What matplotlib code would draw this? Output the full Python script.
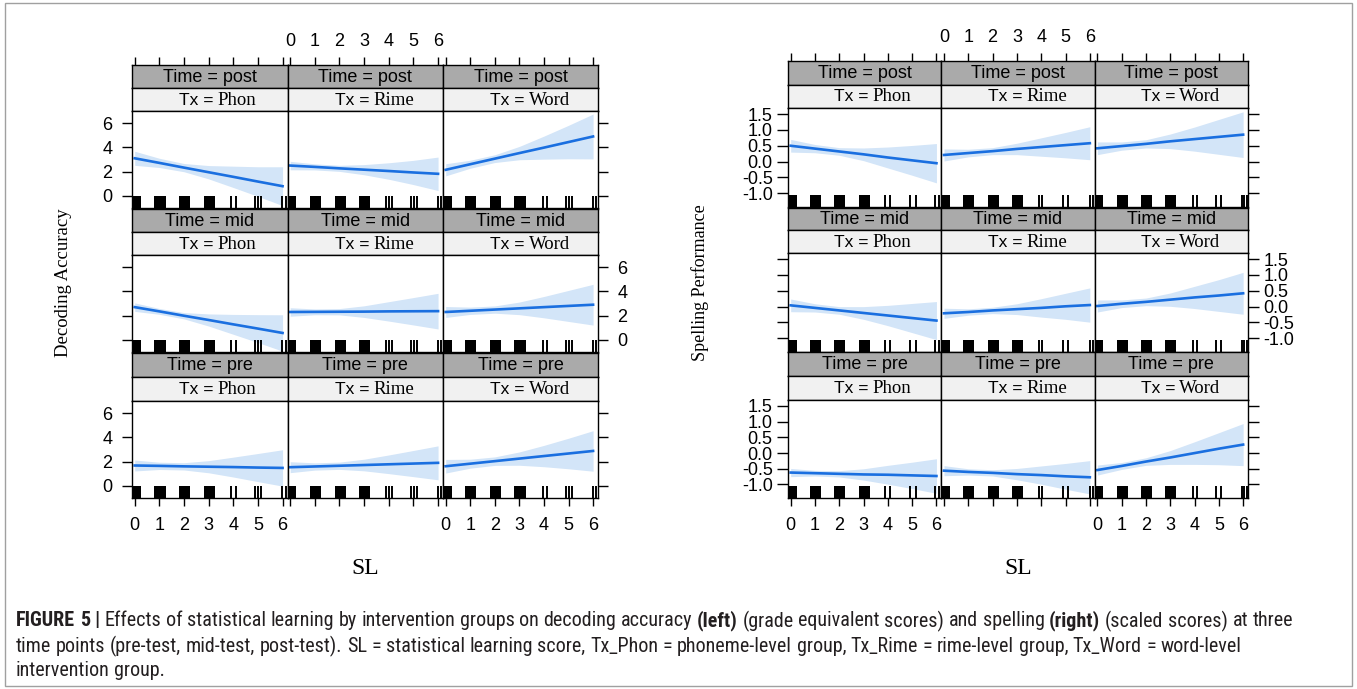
import matplotlib
matplotlib.use('Agg')
import matplotlib.pyplot as plt
import matplotlib.transforms as mtrans
from matplotlib.patches import Rectangle
from matplotlib import font_manager as fm

W, H = 1357, 689
SANS = 'Liberation Sans'
SERIF = 'Liberation Serif'
plt.rcParams['font.family'] = [SANS, 'DejaVu Sans']
plt.rcParams['axes.linewidth'] = 1.0
plt.rcParams['axes.unicode_minus'] = False

# ---------------- data ----------------
SL = [0, 1, 2, 3, 4, 5, 6]
TIMES = ['post', 'mid', 'pre']
GROUPS = ['Phon', 'Rime', 'Word']

# Decoding accuracy (left chart): fit / lower / upper, per group (Phon, Rime, Word)
dec_fit_post = [[3.10, 2.72, 2.33, 1.95, 1.57, 1.18, 0.80],
                [2.50, 2.39, 2.27, 2.16, 2.05, 1.93, 1.82],
                [2.15, 2.61, 3.07, 3.53, 3.98, 4.44, 4.90]]
dec_lo_post = [[2.52, 2.34, 1.99, 1.40, 0.69, -0.04, -0.80],
               [2.15, 2.14, 2.02, 1.74, 1.37, 0.93, 0.44],
               [1.65, 2.28, 2.75, 2.98, 3.03, 3.06, 3.05]]
dec_hi_post = [[3.68, 3.10, 2.67, 2.50, 2.45, 2.40, 2.40],
               [2.85, 2.64, 2.52, 2.58, 2.73, 2.93, 3.20],
               [2.65, 2.94, 3.39, 4.08, 4.93, 5.82, 6.75]]
dec_fit_mid = [[2.70, 2.35, 1.99, 1.64, 1.28, 0.93, 0.57],
               [2.30, 2.31, 2.32, 2.33, 2.35, 2.36, 2.37],
               [2.30, 2.40, 2.50, 2.60, 2.70, 2.80, 2.90]]
dec_lo_mid = [[2.35, 2.11, 1.73, 1.14, 0.46, -0.22, -0.93],
              [1.95, 2.07, 2.06, 1.85, 1.55, 1.23, 0.90],
              [1.85, 2.10, 2.20, 2.08, 1.82, 1.52, 1.22]]
dec_hi_mid = [[3.05, 2.59, 2.25, 2.14, 2.10, 2.08, 2.07],
              [2.65, 2.55, 2.58, 2.81, 3.15, 3.49, 3.84],
              [2.75, 2.70, 2.80, 3.12, 3.58, 4.08, 4.58]]
dec_fit_pre = [[1.68, 1.65, 1.61, 1.58, 1.55, 1.51, 1.48],
               [1.54, 1.60, 1.66, 1.72, 1.78, 1.84, 1.90],
               [1.62, 1.83, 2.04, 2.25, 2.46, 2.67, 2.88]]
dec_lo_pre = [[1.23, 1.35, 1.31, 1.08, 0.73, 0.35, -0.02],
              [1.09, 1.30, 1.36, 1.24, 1.01, 0.76, 0.50],
              [1.06, 1.46, 1.69, 1.70, 1.58, 1.41, 1.21]]
dec_hi_pre = [[2.13, 1.95, 1.91, 2.08, 2.37, 2.67, 2.98],
              [1.99, 1.90, 1.96, 2.20, 2.55, 2.92, 3.30],
              [2.18, 2.20, 2.39, 2.80, 3.34, 3.93, 4.55]]

# Spelling performance (right chart)
spl_fit_post = [[0.50, 0.41, 0.32, 0.23, 0.13, 0.04, -0.05],
                [0.21, 0.27, 0.33, 0.40, 0.46, 0.52, 0.58],
                [0.42, 0.49, 0.56, 0.64, 0.71, 0.78, 0.85]]
spl_lo_post = [[0.30, 0.28, 0.20, 0.03, -0.20, -0.43, -0.67],
               [0.02, 0.15, 0.22, 0.22, 0.17, 0.12, 0.06],
               [0.22, 0.36, 0.43, 0.41, 0.33, 0.23, 0.13]]
spl_hi_post = [[0.70, 0.54, 0.44, 0.43, 0.46, 0.51, 0.57],
               [0.40, 0.39, 0.44, 0.58, 0.75, 0.92, 1.10],
               [0.62, 0.62, 0.69, 0.87, 1.09, 1.33, 1.57]]
spl_fit_mid = [[0.04, -0.04, -0.12, -0.20, -0.28, -0.36, -0.44],
               [-0.21, -0.17, -0.12, -0.08, -0.04, 0.01, 0.05],
               [0.02, 0.09, 0.15, 0.22, 0.29, 0.35, 0.42]]
spl_lo_mid = [[-0.16, -0.17, -0.24, -0.40, -0.60, -0.82, -1.04],
              [-0.37, -0.27, -0.22, -0.25, -0.33, -0.40, -0.49],
              [-0.17, -0.03, 0.03, 0.01, -0.06, -0.15, -0.24]]
spl_hi_mid = [[0.24, 0.09, 0.00, 0.00, 0.04, 0.10, 0.16],
              [-0.05, -0.07, -0.02, 0.09, 0.25, 0.42, 0.59],
              [0.21, 0.21, 0.27, 0.43, 0.64, 0.85, 1.08]]
spl_fit_pre = [[-0.62, -0.64, -0.66, -0.68, -0.69, -0.71, -0.73],
               [-0.56, -0.60, -0.63, -0.67, -0.70, -0.74, -0.77],
               [-0.54, -0.41, -0.27, -0.14, 0.00, 0.14, 0.27]]
spl_lo_pre = [[-0.75, -0.73, -0.76, -0.86, -0.99, -1.13, -1.28],
              [-0.72, -0.70, -0.73, -0.85, -0.99, -1.15, -1.30],
              [-0.70, -0.52, -0.39, -0.36, -0.36, -0.37, -0.40]]
spl_hi_pre = [[-0.49, -0.55, -0.56, -0.50, -0.39, -0.29, -0.18],
              [-0.40, -0.50, -0.53, -0.49, -0.41, -0.33, -0.24],
              [-0.38, -0.30, -0.15, 0.08, 0.36, 0.65, 0.94]]

# rug (SL scores of participants): dense integer clusters + sparse single marks
rug_blocks = [0, 1, 2, 3]
dec_rug_lines = [[3.92, 4.12, 4.88, 5.00, 5.12, 5.97, 6.12],
                 [3.90, 4.02, 4.14, 4.90, 5.02, 5.14, 6.00, 6.12],
                 [3.95, 4.12, 4.90, 5.02, 5.14, 5.98, 6.10]]
spl_rug_lines = [[3.90, 4.10, 4.90, 5.15, 5.95, 6.10],
                 [3.92, 4.05, 4.90, 5.10, 6.00, 6.12],
                 [3.92, 4.10, 4.90, 5.10, 5.95, 6.05, 6.15]]

dec_yticks = [0, 2, 4, 6]
dec_yticklabels = ['0', '2', '4', '6']
spl_yticks = [-1.0, -0.5, 0.0, 0.5, 1.0, 1.5]
spl_yticklabels = ['-1.0', '-0.5', '0.0', '0.5', '1.0', '1.5']

caption_lines = [
    [('FIGURE 5 |', 'bold'),
     ('Effects of statistical learning by intervention groups on decoding accuracy', 'normal'),
     ('(left)', 'bold'),
     ('(grade equivalent scores) and spelling', 'normal'),
     ('(right)', 'bold'),
     ('(scaled scores) at three', 'normal')],
    [('time points (pre-test, mid-test, post-test). SL = statistical learning score, '
      'Tx_Phon = phoneme-level group, Tx_Rime = rime-level group, Tx_Word = word-level', 'normal')],
    [('intervention group.', 'normal')],
]

# ---------------- style / layout ----------------
STRIP_DARK = '#aaaaaa'
STRIP_LIGHT = '#f1f1f1'
LINE_COL = '#1a6fe0'
BAND_COL = '#d3e5f8'
XLIM = (-0.11, 6.2)
TICK_FS = 13

fig = plt.figure(figsize=(W / 100, H / 100), dpi=100)


def add_px_axes(x0, ytop, x1, ybot):
    return fig.add_axes([x0 / W, 1 - ybot / H, (x1 - x0) / W, (ybot - ytop) / H])


def draw_chart(cols, stops, ptops, pbots, ylim, yticks, yticklabels,
               fits, los, his, rug_lines, tick_len, ypad):
    for r in range(3):
        for c in range(3):
            x0, x1 = cols[c], cols[c + 1]
            st, pt, pb = stops[r], ptops[r], pbots[r]
            sm = (st + pt) / 2
            # outer strip (Time)
            sa = add_px_axes(x0, st, x1, sm)
            sa.set_facecolor(STRIP_DARK)
            sa.set_xlim(*XLIM)
            sa.set_ylim(0, 1)
            sa.set_yticks([])
            if r == 0:
                sa.set_xticks(SL)
                sa.tick_params(axis='x', top=True, bottom=False, labeltop=(c == 1),
                               labelbottom=False, direction='out', length=6, width=1,
                               pad=5, labelsize=TICK_FS)
            else:
                sa.set_xticks([])
            sa.text(0.5, 0.47, 'Time = ' + TIMES[r], transform=sa.transAxes,
                    ha='center', va='center', fontsize=13, family=SANS)
            # inner strip (Tx)
            sb = add_px_axes(x0, sm, x1, pt)
            sb.set_facecolor(STRIP_LIGHT)
            sb.set_xticks([])
            sb.set_yticks([])
            t1 = mtrans.offset_copy(sb.transAxes, fig=fig, x=4, y=0, units='dots')
            t2 = mtrans.offset_copy(sb.transAxes, fig=fig, x=8, y=0, units='dots')
            sb.text(0.5, 0.47, 'Tx =', transform=t1, ha='right', va='center',
                    fontsize=12.5, family=SANS)
            sb.text(0.5, 0.47, GROUPS[c], transform=t2, ha='left', va='center',
                    fontsize=13.5, family=SERIF)
            # panel
            ax = add_px_axes(x0, pt, x1, pb)
            ax.set_xlim(*XLIM)
            ax.set_ylim(*ylim)
            ax.fill_between(SL, los[r][c], his[r][c], color=BAND_COL, lw=0, zorder=1)
            ax.plot(SL, fits[r][c], color=LINE_COL, lw=1.9, zorder=2)
            bt = ax.get_xaxis_transform()
            for b in rug_blocks:
                ax.add_patch(Rectangle((b - 0.2, 0), 0.45, 0.125, transform=bt,
                                       facecolor='black', lw=0, zorder=3))
            ax.vlines(rug_lines[c], 0, 0.125, transform=bt, color='black', lw=1.4, zorder=3)
            ax.set_xticks(SL if r == 2 else [])
            ax.set_yticks(yticks if c in (0, 2) else [])
            if c in (0, 2):
                ax.set_yticklabels(yticklabels)
            ax.tick_params(axis='x', bottom=(r == 2), top=False,
                           labelbottom=(r == 2 and c in (0, 2)), direction='out',
                           length=6, width=1, pad=8, labelsize=TICK_FS)
            ax.tick_params(axis='y', left=(c == 0), right=(c == 2),
                           labelleft=(c == 0 and r in (0, 2)),
                           labelright=(c == 2 and r == 1),
                           direction='out', length=tick_len, width=1, pad=ypad,
                           labelsize=TICK_FS)


draw_chart([132, 287.5, 443, 598], [65, 209, 353], [111, 255, 401], [208, 352, 498],
           (-1.0, 7.0), dec_yticks, dec_yticklabels,
           [dec_fit_post, dec_fit_mid, dec_fit_pre],
           [dec_lo_post, dec_lo_mid, dec_lo_pre],
           [dec_hi_post, dec_hi_mid, dec_hi_pre], dec_rug_lines, 7, 7)

draw_chart([788, 941.3, 1094.7, 1248], [61, 208, 352], [108, 253, 400], [207, 352, 498],
           (-1.43, 1.69), spl_yticks, spl_yticklabels,
           [spl_fit_post, spl_fit_mid, spl_fit_pre],
           [spl_lo_post, spl_lo_mid, spl_lo_pre],
           [spl_hi_post, spl_hi_mid, spl_hi_pre], spl_rug_lines, 8, 3)

fig.text(64 / W, 1 - 283 / H, 'Decoding Accuracy', rotation=90, ha='center', va='center',
         family=SERIF, fontsize=13.5)
fig.text(700 / W, 1 - 283 / H, 'Spelling Performance', rotation=90, ha='center', va='center',
         family=SERIF, fontsize=13)
fig.text(365 / W, 1 - 568 / H, 'SL', ha='center', va='center', family=SERIF, fontsize=17)
fig.text(1018 / W, 1 - 568 / H, 'SL', ha='center', va='center', family=SERIF, fontsize=17)

# outer frame
fig.patches.append(Rectangle((4.5 / W, 1 - 686 / H), (1352 - 4.5) / W, (686 - 3) / H,
                             transform=fig.transFigure, fill=False,
                             edgecolor='#a0a0a0', lw=1))

# ---------------- caption ----------------
def pick_caption_font():
    names = {f.name for f in fm.fontManager.ttflist}
    for cand in ['Liberation Sans Narrow', 'Arial Narrow', 'Roboto Condensed',
                 'Open Sans Condensed', 'DejaVu Sans Condensed']:
        if cand in names:
            return dict(family=cand)
    # condensed face registered under the base family name
    for f in fm.fontManager.ttflist:
        if f.name in ('DejaVu Sans', 'Liberation Sans', 'Noto Sans', 'Open Sans') and \
                str(f.stretch) in ('condensed', 'semi-condensed', '87.5', '75', 'semi-expanded') \
                and 'ondensed' in f.fname:
            return dict(family=f.name, stretch='condensed')
    return dict(family=SANS)


CAP_FONT = pick_caption_font()
CAP_COL = '#231f20'
renderer = fig.canvas.get_renderer()


def text_width(s, size, weight):
    t = fig.text(0, 0, s, fontsize=size, fontweight=weight, **CAP_FONT)
    w = t.get_window_extent(renderer).width
    t.remove()
    return w


def line_words(line):
    out = []
    for seg, wt in line:
        for wd in seg.split(' '):
            if wd:
                out.append((wd, wt))
    return out


def line_width(line, size):
    words = line_words(line)
    sp = text_width('a a', size, 'normal') - text_width('aa', size, 'normal')
    return sum(text_width(wd, size, wt) for wd, wt in words) + sp * (len(words) - 1)


base = 11.0
cap_size = base * (1290 - 16) / line_width(caption_lines[0], base)
space_w = text_width('a a', cap_size, 'normal') - text_width('aa', cap_size, 'normal')
for li, line in enumerate(caption_lines):
    y = 621 + 25 * li
    x = 16.0
    for wd, wt in line_words(line):
        fig.text(x / W, 1 - y / H, wd, fontsize=cap_size, fontweight=wt,
                 color=CAP_COL, ha='left', va='center', **CAP_FONT)
        x += text_width(wd, cap_size, wt) + space_w

fig.savefig('out.png', dpi=100)
